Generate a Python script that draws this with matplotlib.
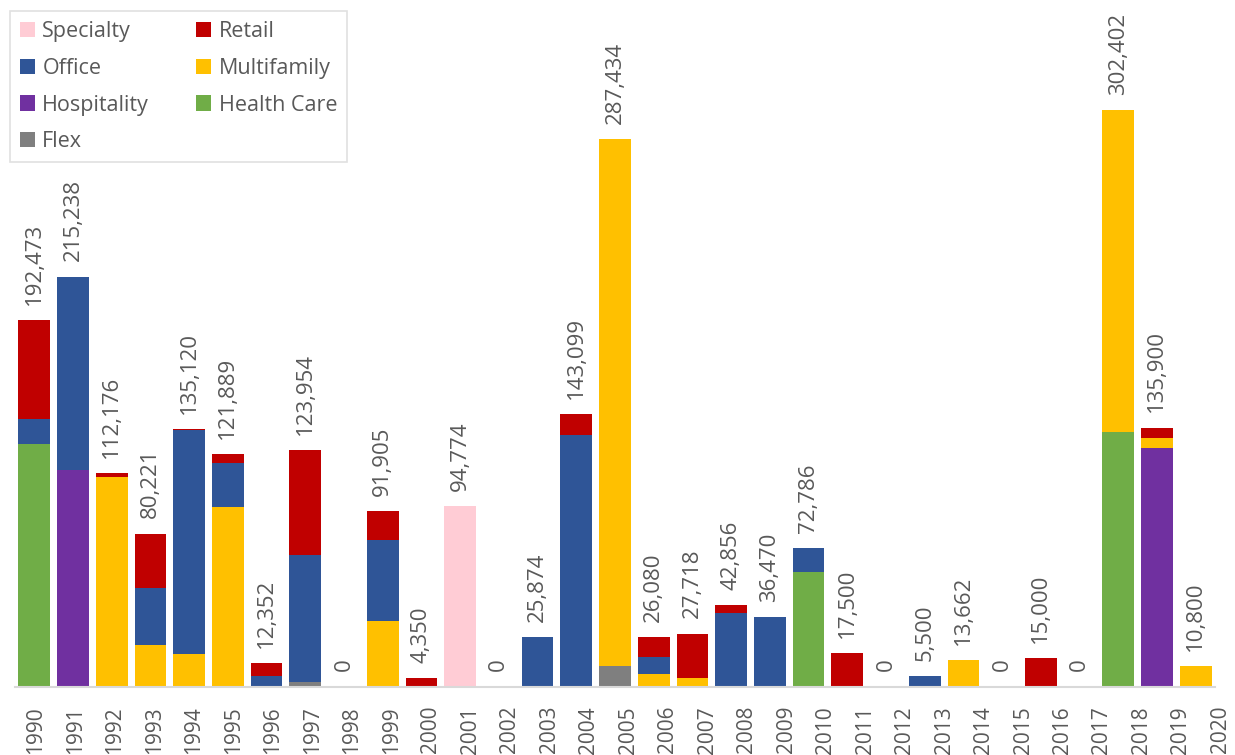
import numpy as np
import matplotlib
matplotlib.use("Agg")
import matplotlib.pyplot as plt

# Años (categorías del eje x)
anios = list(range(1990, 2021))

# Valores por tipo de inmueble (pies cuadrados)
flex =        [0, 0, 0, 0, 0, 0, 0, 2600, 0, 0, 0, 0, 0, 0, 0, 10800, 0, 0, 0, 0,
               0, 0, 0, 0, 0, 0, 0, 0, 0, 0, 0]
salud =       [127500, 0, 0, 0, 0, 0, 0, 0, 0, 0, 0, 0, 0, 0, 0, 0, 0, 0, 0, 0,
               60200, 0, 0, 0, 0, 0, 0, 0, 133400, 0, 0]
hospitalidad = [0, 113700, 0, 0, 0, 0, 0, 0, 0, 0, 0, 0, 0, 0, 0, 0, 0, 0, 0, 0,
                0, 0, 0, 0, 0, 0, 0, 0, 0, 125300, 0]
multifamiliar = [0, 0, 110200, 22000, 17300, 94400, 0, 0, 0, 34400, 0, 0, 0, 0, 0, 276634,
                 6600, 4500, 0, 0, 0, 0, 0, 0, 13662, 0, 0, 0, 169002, 5300, 10800]
oficina =     [13000, 101538, 0, 29700, 117120, 22900, 5600, 66200, 0, 42600, 0, 0, 0, 25874,
               132099, 0, 8900, 0, 38600, 36470, 12586, 0, 0, 5500, 0, 0, 0, 0, 0, 0, 0]
retail =      [51973, 0, 1976, 28521, 700, 4589, 6752, 55154, 0, 14905, 4350, 0, 0, 0,
               11000, 0, 10580, 23218, 4256, 0, 0, 17500, 0, 0, 0, 0, 15000, 0, 0, 5300, 0]
especialidad = [0, 0, 0, 0, 0, 0, 0, 0, 0, 0, 0, 94774, 0, 0, 0, 0, 0, 0, 0, 0,
                0, 0, 0, 0, 0, 0, 0, 0, 0, 0, 0]

# Orden de apilado (de abajo hacia arriba)
series = [
    ('Flex', flex, '#7F7F7F'),
    ('Health Care', salud, '#70AD47'),
    ('Hospitality', hospitalidad, '#7030A0'),
    ('Multifamily', multifamiliar, '#FFC000'),
    ('Office', oficina, '#2F5597'),
    ('Retail', retail, '#C00000'),
    ('Specialty', especialidad, '#FFCCD5'),
]

plt.rcParams['font.family'] = ['Open Sans', 'DejaVu Sans']
gris_texto = '#595959'

# cada categoría ocupa ~38.7 px; el eje se alarga un poco a la derecha para la etiqueta 2020
paso = 1200 / 31
x_max = 30.8
fig = plt.figure(figsize=(12.35, 7.55), dpi=100)
ax = fig.add_axes([15 / 1235, 1 - 686.5 / 755, (x_max + 0.5) * paso / 1235, 680 / 755])

x = np.arange(len(anios))
base = np.zeros(len(anios))
barras = {}
for nombre, valores, color in series:
    barras[nombre] = ax.bar(x, valores, bottom=base, width=0.82, color=color, label=nombre)
    base += np.array(valores)

# Etiquetas de totales encima de cada barra
for xi, total in zip(x, base):
    ax.annotate(f"{int(total):,}", (xi, total), xytext=(0, 11), textcoords='offset points',
                rotation=90, ha='center', va='bottom', fontsize=16, color=gris_texto)

# las etiquetas del eje se corren un poco a la derecha, como en el original
ax.set_xticks(x * 1.02 + 0.04)
ax.set_xticklabels([str(a) for a in anios], rotation=90, fontsize=15, color=gris_texto)
ax.set_xlim(-0.5, x_max)
ax.set_ylim(0, 357000)
ax.tick_params(axis='x', length=0, pad=14)
ax.set_yticks([])
for lado in ['top', 'right', 'left', 'bottom']:
    ax.spines[lado].set_visible(False)
ax.axhline(0, xmin=0, xmax=31 / (x_max + 0.5), color='#D9D9D9', linewidth=1.5, clip_on=False)

# Leyenda en dos columnas (orden por filas como en el original)
orden = ['Specialty', 'Office', 'Hospitality', 'Flex', 'Retail', 'Multifamily', 'Health Care']
leg = fig.legend([barras[n] for n in orden], orden, ncol=2, loc='upper left',
                 bbox_to_anchor=(10 / 1235, 1 - 11 / 755), borderaxespad=0, fontsize=15.5,
                 frameon=True, fancybox=False, edgecolor='#D9D9D9', handlelength=0.7,
                 handleheight=0.7, handletextpad=0.35, columnspacing=2.2, labelspacing=0.74,
                 borderpad=0.45)
leg.get_frame().set_linewidth(1.2)
for t in leg.get_texts():
    t.set_color(gris_texto)

fig.savefig('out.png', dpi=100)
